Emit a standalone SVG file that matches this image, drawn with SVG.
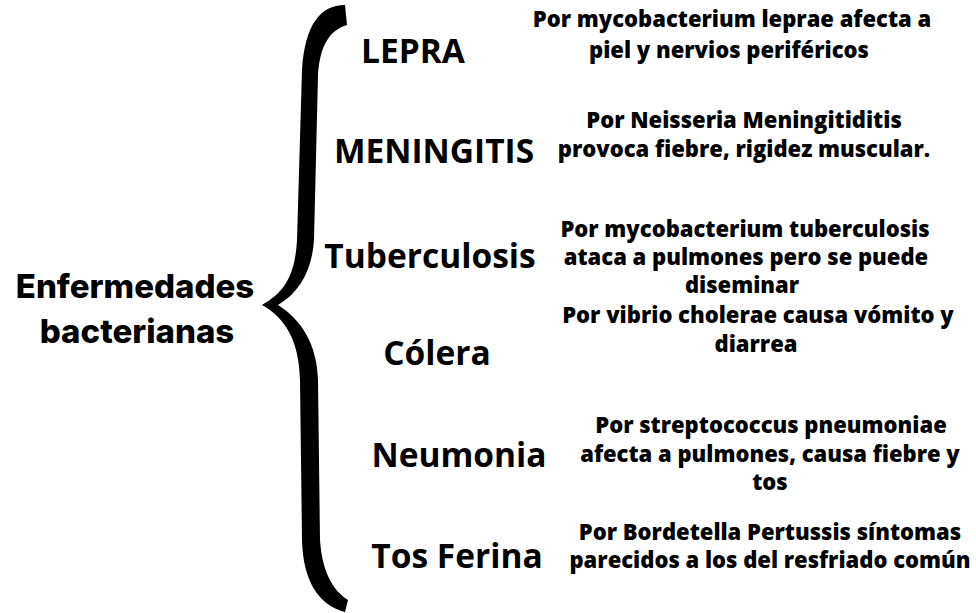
<svg xmlns="http://www.w3.org/2000/svg" width="976" height="613" viewBox="0 0 976 613">
<style>
.root{font-family:Inter,"Liberation Sans",sans-serif;font-weight:800;font-size:33px;fill:#000;text-anchor:middle}
.name{font-family:"Open Sans","Liberation Sans",sans-serif;font-weight:700;font-size:33.5px;fill:#000;text-anchor:middle}
.desc{font-family:"Open Sans","Liberation Sans",sans-serif;font-weight:800;font-size:22px;fill:#000;text-anchor:middle}
</style>
<rect width="976" height="613" fill="#fff"/>
<g id="root-label">
<text class="root" x="135" y="298">Enfermedades</text>
<text class="root" x="137" y="343">bacterianas</text>
</g>
<g id="connectors">
<path d="M 345 5 C 320 5, 305 25, 302 70 L 297 240 C 295 275, 285 292, 262 305 C 285 318, 299 340, 300 380 L 302 540 C 303 580, 318 605, 345 612 L 348 600 C 332 590, 322 570, 320 540 L 318 380 C 317 345, 302 320, 278 305 C 300 292, 312 270, 314 240 L 318 75 C 320 45, 330 30, 347 25 Z" fill="#000"/>
</g>
<g id="lepra">
<text class="name" x="413" y="63">LEPRA</text>
<text class="desc" x="732" y="27">Por mycobacterium leprae afecta a</text>
<text class="desc" x="729" y="58">piel y nervios periféricos</text>
</g>
<g id="meningitis">
<text class="name" x="434" y="163">MENINGITIS</text>
<text class="desc" x="744" y="128">Por Neisseria Meningitiditis</text>
<text class="desc" x="744" y="157">provoca fiebre, rigidez muscular.</text>
</g>
<g id="tuberculosis">
<text class="name" x="430" y="268">Tuberculosis</text>
<text class="desc" x="745" y="237">Por mycobacterium tuberculosis</text>
<text class="desc" x="746" y="265">ataca a pulmones pero se puede</text>
<text class="desc" x="742" y="293">diseminar</text>
</g>
<g id="colera">
<text class="name" x="437" y="365">Cólera</text>
<text class="desc" x="758" y="323">Por vibrio cholerae causa vómito y</text>
<text class="desc" x="756" y="352">diarrea</text>
</g>
<g id="neumonia">
<text class="name" x="459" y="467">Neumonia</text>
<text class="desc" x="771" y="433">Por streptococcus pneumoniae</text>
<text class="desc" x="770" y="462">afecta a pulmones, causa fiebre y</text>
<text class="desc" x="770" y="490">tos</text>
</g>
<g id="tos-ferina">
<text class="name" x="457" y="568">Tos Ferina</text>
<text class="desc" x="770" y="540">Por Bordetella Pertussis síntomas</text>
<text class="desc" x="770" y="568">parecidos a los del resfriado común</text>
</g>
</svg>
